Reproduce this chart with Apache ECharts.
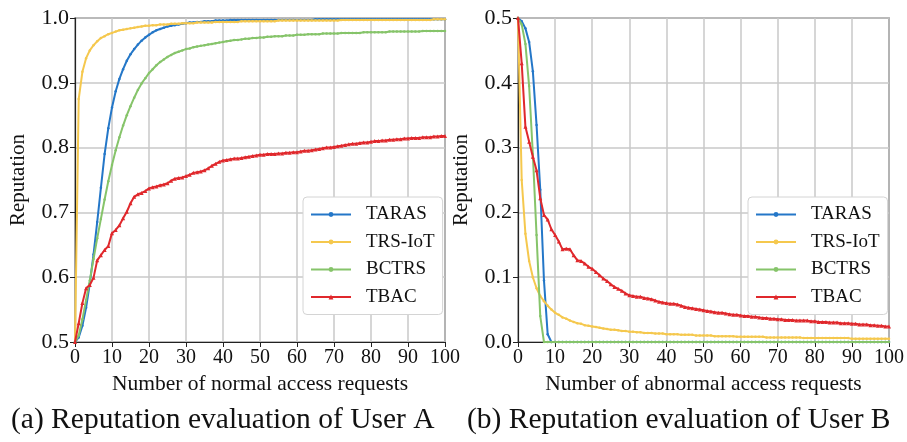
<!DOCTYPE html>
<html>
<head>
<meta charset="utf-8">
<script src="https://cdn.jsdelivr.net/npm/echarts@6/dist/echarts.min.js"></script>
<style>
  html, body { margin: 0; padding: 0; background: #fff; }
  #chart { width: 907px; height: 442px; }
</style>
</head>
<body>
<div id="chart"></div>
<script>
var seriesNames = ['TARAS', 'TRS-IoT', 'BCTRS', 'TBAC'];
var colors = ['#2477c8', '#f5c84e', '#86c46a', '#e0282c'];
var yTicksA = [0.5, 0.6, 0.7, 0.8, 0.9, 1.0];
var yTicksB = [0.0, 0.1, 0.2, 0.3, 0.4, 0.5];

// (a) normal access requests, x = 0..100
var tarasA = [
  0.500,0.507,0.525,0.553,0.590,0.635,0.685,0.738,0.790,0.830,
  0.862,0.887,0.906,0.921,0.934,0.944,0.952,0.959,0.965,0.970,
  0.974,0.978,0.981,0.983,0.985,0.987,0.988,0.989,0.990,0.991,
  0.992,0.993,0.993,0.994,0.994,0.995,0.995,0.995,0.996,0.996,
  0.996,0.996,0.997,0.997,0.997,0.997,0.997,0.997,0.997,0.997,
  0.997,0.997,0.997,0.997,0.997,0.997,0.997,0.997,0.997,0.997,
  0.997,0.997,0.997,0.997,0.997,0.998,0.998,0.998,0.998,0.998,
  0.998,0.998,0.998,0.998,0.998,0.998,0.998,0.998,0.998,0.998,
  0.998,0.998,0.998,0.998,0.998,0.998,0.998,0.998,0.998,0.998,
  0.998,0.998,0.998,0.998,0.998,0.998,0.998,0.998,0.998,0.998,
  0.998
];
var trsA = [
  0.500,0.875,0.917,0.938,0.950,0.958,0.964,0.969,0.972,0.975,
  0.977,0.979,0.981,0.982,0.983,0.984,0.985,0.986,0.987,0.988,
  0.988,0.989,0.989,0.990,0.990,0.990,0.991,0.991,0.991,0.992,
  0.992,0.992,0.992,0.993,0.993,0.993,0.993,0.993,0.994,0.994,
  0.994,0.994,0.994,0.994,0.994,0.995,0.995,0.995,0.995,0.995,
  0.995,0.995,0.995,0.995,0.995,0.996,0.996,0.996,0.996,0.996,
  0.996,0.996,0.996,0.996,0.996,0.996,0.996,0.996,0.996,0.996,
  0.996,0.996,0.997,0.997,0.997,0.997,0.997,0.997,0.997,0.997,
  0.997,0.997,0.997,0.997,0.997,0.997,0.997,0.997,0.997,0.997,
  0.997,0.997,0.997,0.997,0.997,0.997,0.997,0.998,0.998,0.998,
  0.998
];
var bctrsA = [
  0.500,0.510,0.535,0.565,0.595,0.628,0.660,0.690,0.720,0.748,
  0.773,0.796,0.816,0.834,0.850,0.864,0.877,0.889,0.899,0.907,
  0.915,0.921,0.927,0.932,0.936,0.940,0.943,0.946,0.948,0.950,
  0.952,0.953,0.955,0.956,0.957,0.958,0.959,0.960,0.961,0.962,
  0.963,0.964,0.965,0.966,0.966,0.967,0.968,0.968,0.969,0.969,
  0.970,0.970,0.971,0.971,0.972,0.972,0.972,0.973,0.973,0.973,
  0.974,0.974,0.974,0.975,0.975,0.975,0.975,0.976,0.976,0.976,
  0.976,0.976,0.977,0.977,0.977,0.977,0.977,0.977,0.978,0.978,
  0.978,0.978,0.978,0.978,0.978,0.979,0.979,0.979,0.979,0.979,
  0.979,0.979,0.979,0.979,0.980,0.980,0.980,0.980,0.980,0.980,
  0.980
];
var tbacA = [
  0.500,0.529,0.560,0.583,0.588,0.599,0.626,0.634,0.642,0.648,
  0.668,0.673,0.680,0.691,0.701,0.714,0.724,0.728,0.730,0.733,
  0.737,0.739,0.740,0.742,0.743,0.745,0.749,0.752,0.753,0.754,
  0.756,0.758,0.761,0.762,0.763,0.765,0.768,0.772,0.775,0.778,
  0.780,0.781,0.782,0.783,0.783,0.784,0.785,0.786,0.787,0.788,
  0.789,0.789,0.790,0.790,0.790,0.791,0.791,0.792,0.792,0.793,
  0.793,0.794,0.795,0.795,0.796,0.797,0.798,0.799,0.800,0.800,
  0.801,0.802,0.803,0.804,0.805,0.806,0.806,0.807,0.808,0.808,
  0.809,0.810,0.810,0.811,0.811,0.812,0.812,0.813,0.813,0.814,
  0.814,0.815,0.815,0.815,0.816,0.816,0.816,0.817,0.817,0.818,
  0.818
];

// (b) abnormal access requests, x = 0..100
var tarasB = [
  0.500,0.495,0.484,0.463,0.418,0.335,0.235,0.095,0.012,0,
  0,0,0,0,0,0,0,0,0,0,
  0,0,0,0,0,0,0,0,0,0,
  0,0,0,0,0,0,0,0,0,0,
  0,0,0,0,0,0,0,0,0,0,
  0,0,0,0,0,0,0,0,0,0,
  0,0,0,0,0,0,0,0,0,0,
  0,0,0,0,0,0,0,0,0,0,
  0,0,0,0,0,0,0,0,0,0,
  0,0,0,0,0,0,0,0,0,0,
  0
];
var trsB = [
  0.500,0.250,0.167,0.125,0.100,0.083,0.071,0.063,0.056,0.050,
  0.045,0.042,0.038,0.036,0.033,0.031,0.029,0.028,0.026,0.025,
  0.024,0.023,0.022,0.021,0.020,0.019,0.019,0.018,0.017,0.017,
  0.016,0.016,0.015,0.015,0.014,0.014,0.014,0.013,0.013,0.013,
  0.012,0.012,0.012,0.012,0.011,0.011,0.011,0.011,0.010,0.010,
  0.010,0.010,0.010,0.009,0.009,0.009,0.009,0.009,0.009,0.008,
  0.008,0.008,0.008,0.008,0.008,0.008,0.008,0.007,0.007,0.007,
  0.007,0.007,0.007,0.007,0.007,0.007,0.007,0.006,0.006,0.006,
  0.006,0.006,0.006,0.006,0.006,0.006,0.006,0.006,0.006,0.006,
  0.005,0.005,0.005,0.005,0.005,0.005,0.005,0.005,0.005,0.005,
  0.005
];
var bctrsB = [
  0.500,0.490,0.460,0.395,0.290,0.165,0.040,0,0,0,
  0,0,0,0,0,0,0,0,0,0,
  0,0,0,0,0,0,0,0,0,0,
  0,0,0,0,0,0,0,0,0,0,
  0,0,0,0,0,0,0,0,0,0,
  0,0,0,0,0,0,0,0,0,0,
  0,0,0,0,0,0,0,0,0,0,
  0,0,0,0,0,0,0,0,0,0,
  0,0,0,0,0,0,0,0,0,0,
  0,0,0,0,0,0,0,0,0,0,
  0
];
var tbacB = [
  0.500,0.430,0.332,0.309,0.286,0.265,0.222,0.196,0.189,0.174,
  0.165,0.155,0.143,0.144,0.143,0.134,0.126,0.125,0.121,0.116,
  0.113,0.108,0.103,0.098,0.094,0.089,0.085,0.082,0.079,0.075,
  0.072,0.071,0.070,0.070,0.068,0.067,0.066,0.064,0.062,0.061,
  0.060,0.059,0.059,0.058,0.056,0.054,0.053,0.052,0.051,0.050,
  0.049,0.048,0.047,0.046,0.045,0.045,0.044,0.043,0.042,0.042,
  0.041,0.040,0.040,0.039,0.039,0.038,0.037,0.037,0.036,0.036,
  0.035,0.035,0.034,0.034,0.034,0.033,0.033,0.033,0.033,0.032,
  0.032,0.031,0.031,0.031,0.030,0.030,0.030,0.029,0.029,0.029,
  0.028,0.028,0.027,0.027,0.027,0.026,0.026,0.025,0.025,0.024,
  0.024
];

var serif = 'Liberation Serif';
var symbols = ['circle', 'circle', 'circle', 'triangle'];
var symbolSizes = [2.5, 2.5, 2.5, 4];

function pairs(vals){
    return vals.map(function(v, i){ return [i, v]; });
}

function makeSeries(idx, vals, gridIdx){
    return {
        name: seriesNames[idx],
        type: 'line',
        xAxisIndex: gridIdx,
        yAxisIndex: gridIdx,
        data: pairs(vals),
        symbol: symbols[idx],
        symbolSize: symbolSizes[idx],
        showSymbol: true,
        itemStyle: {color: colors[idx]},
        lineStyle: {color: colors[idx], width: 2},
        z: 2 + idx
    };
}

function xAxis(gridIdx, title){
    return {
        type: 'value', gridIndex: gridIdx, min: 0, max: 100, interval: 10,
        name: title, nameLocation: 'middle', nameGap: 31,
        nameTextStyle: {fontFamily: serif, fontSize: 21.5, color: '#111'},
        axisLine: {show: true, lineStyle: {color: '#222', width: 1.2}},
        axisTick: {show: true, length: 5, lineStyle: {color: '#222'}},
        axisLabel: {fontFamily: serif, fontSize: 20, color: '#111', margin: 6},
        splitLine: {show: true, lineStyle: {color: '#c9c9c9', width: 1.5}}
    };
}

function yAxis(gridIdx, ticks){
    return {
        type: 'value', gridIndex: gridIdx, min: ticks[0], max: ticks[ticks.length - 1], interval: 0.1,
        name: 'Reputation', nameLocation: 'middle', nameGap: 46,
        nameTextStyle: {fontFamily: serif, fontSize: 21, color: '#111'},
        axisLine: {show: true, lineStyle: {color: '#222', width: 1.2}},
        axisTick: {show: true, length: 5, lineStyle: {color: '#222'}},
        axisLabel: {fontFamily: serif, fontSize: 22, color: '#111', margin: 6,
            formatter: function(v){ return v.toFixed(1); }},
        splitLine: {show: true, lineStyle: {color: '#c9c9c9', width: 1.5}}
    };
}

function legend(left){
    return {
        data: seriesNames,
        orient: 'vertical',
        left: left, top: 197,
        itemWidth: 40, itemHeight: 6, itemGap: 8.5,
        padding: [8, 8, 8, 7],
        backgroundColor: '#fff',
        borderColor: '#d4d4d4', borderWidth: 1, borderRadius: 4,
        textStyle: {fontFamily: serif, fontSize: 19, color: '#111', padding: [0, 0, 0, 10], lineHeight: 16}
    };
}

var myChart = echarts.init(document.getElementById('chart'));

myChart.setOption({
    animation: false,
    backgroundColor: '#fff',
    grid: [
        {left: 75, right: 462, top: 18, bottom: 100, show: true, borderColor: '#222', borderWidth: 1.2},
        {left: 518, right: 18, top: 18, bottom: 100, show: true, borderColor: '#222', borderWidth: 1.2}
    ],
    xAxis: [xAxis(0, 'Number of normal access requests'), xAxis(1, 'Number of abnormal access requests')],
    yAxis: [yAxis(0, yTicksA), yAxis(1, yTicksB)],
    legend: [legend(303), legend(748)],
    series: [
        makeSeries(0, tarasA, 0), makeSeries(1, trsA, 0), makeSeries(2, bctrsA, 0), makeSeries(3, tbacA, 0),
        makeSeries(0, tarasB, 1), makeSeries(1, trsB, 1), makeSeries(2, bctrsB, 1), makeSeries(3, tbacB, 1)
    ],
    graphic: [
        {type: 'text', left: 11, top: 405, style: {text: '(a) Reputation evaluation of User A', font: '29.5px "Liberation Serif"', fill: '#111'}},
        {type: 'text', left: 467, top: 405, style: {text: '(b) Reputation evaluation of User B', font: '29.5px "Liberation Serif"', fill: '#111'}}
    ]
});

window.onresize = function(){
    myChart.resize();
};
</script>
</body>
</html>
